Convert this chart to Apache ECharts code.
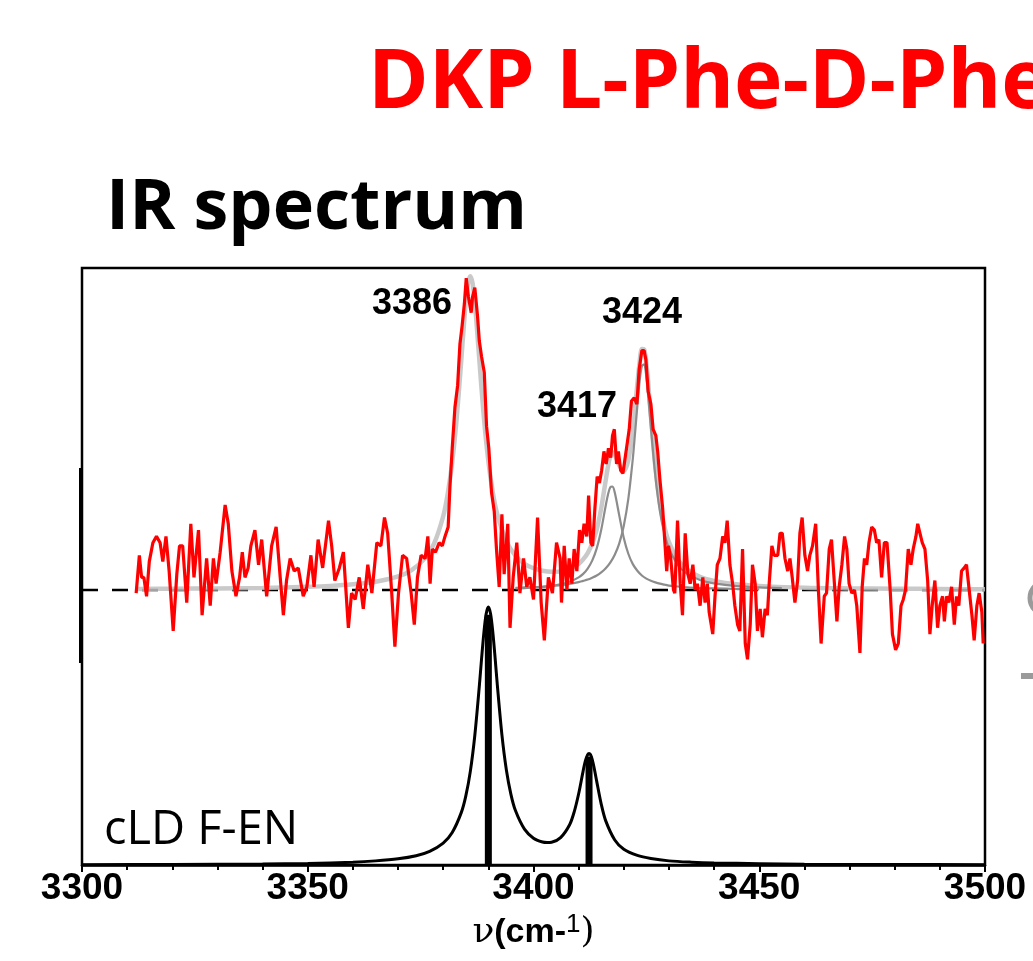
<!DOCTYPE html>
<html>
<head>
<meta charset="utf-8">
<script src="https://cdn.jsdelivr.net/npm/echarts@6/dist/echarts.min.js"></script>
<style>html,body{margin:0;padding:0;background:#fff;}#chart{width:1033px;height:961px;}</style>
</head>
<body>
<div id="chart"></div>
<script>
// ---- DATA ----
const xTicks = [3300, 3350, 3400, 3450, 3500];
const peakLabels = ['3386', '3417', '3424'];

// experimental IR spectrum [wavenumber, intensity (norm.)]
const irSpectrum = [
[3312.0,-0.01],[3312.7,0.11],[3313.2,0.04],[3313.7,0.04],[3314.3,-0.02],[3314.9,0.09],[3315.7,0.15],[3316.5,0.17],[3317.3,0.15],[3317.9,0.09],
[3318.6,0.17],[3319.3,0.06],[3320.2,-0.13],[3321.0,0.05],[3321.6,0.14],[3322.3,0.14],[3323.2,-0.04],[3324.1,0.21],[3324.8,0.04],[3325.8,0.19],
[3326.6,-0.08],[3327.6,0.10],[3328.4,-0.05],[3329.1,0.10],[3329.7,0.02],[3330.6,0.12],[3331.7,0.27],[3332.4,0.21],[3333.2,0.06],[3334.1,-0.02],
[3334.9,0.04],[3335.5,0.12],[3336.1,0.04],[3336.8,0.07],[3337.4,0.14],[3338.3,0.19],[3339.1,0.08],[3339.8,0.16],[3340.9,-0.02],[3342.0,0.14],
[3343.0,0.20],[3343.9,0.04],[3344.6,-0.08],[3345.3,0.03],[3346.1,0.10],[3347.0,0.06],[3347.9,0.07],[3349.0,-0.02],[3349.8,0.01],[3350.7,0.11],
[3351.4,0.01],[3352.3,0.16],[3353.3,0.07],[3354.6,0.22],[3355.3,0.14],[3356.0,0.03],[3357.0,0.07],[3357.9,0.12],
[3359.0,-0.12],[3359.7,-0.01],[3360.5,-0.03],[3361.4,0.04],[3362.3,-0.06],[3363.3,0.08],[3364.2,-0.01],[3365.3,0.15],[3366.2,0.14],[3367.0,0.23],
[3367.7,0.18],[3368.6,-0.01],[3369.3,-0.18],[3370.1,-0.01],[3371.0,0.11],[3371.9,0.10],[3372.9,-0.01],[3373.6,-0.11],[3374.3,0.04],[3375.1,0.11],
[3376.0,0.10],[3376.6,0.17],[3377.1,0.02],[3377.6,0.13],[3378.3,0.12],[3379.1,0.15],[3379.8,0.14],[3380.4,0.17],[3381.1,0.20],[3381.5,0.33],
[3382.0,0.45],[3382.6,0.58],[3383.2,0.65],[3383.7,0.78],[3384.2,0.84],[3384.7,0.91],[3385.1,0.99],[3385.6,0.93],[3386.2,0.88],[3386.5,0.93],
[3387.0,0.96],[3387.6,0.87],[3388.0,0.79],[3388.5,0.74],[3389.1,0.69],[3389.6,0.52],[3390.1,0.45],[3390.7,0.31],[3391.3,0.25],[3391.8,0.13],
[3392.4,0.01],[3393.0,0.24],[3393.5,0.05],[3394.3,0.21],[3394.8,-0.12],[3395.5,0.04],[3396.3,0.15],[3397.0,-0.01],[3397.8,0.10],[3398.5,0.01],
[3399.2,0.04],[3400.0,-0.03],[3400.9,0.23],[3401.7,-0.04],[3402.4,-0.16],[3403.3,0.04],[3404.2,-0.01],[3405.1,0.15],[3405.9,0.10],
[3406.2,-0.04],[3406.8,0.14],[3407.4,0.00],[3407.9,0.10],[3408.5,0.02],[3409.0,0.13],[3409.6,0.06],[3410.2,0.19],[3410.7,0.15],[3411.2,0.21],
[3411.8,0.17],[3412.2,0.30],[3412.7,0.15],[3413.1,0.14],[3413.6,0.26],[3414.1,0.36],[3414.6,0.34],[3415.1,0.38],[3415.6,0.44],[3416.1,0.40],
[3416.6,0.45],[3417.1,0.42],[3417.5,0.49],[3417.9,0.51],[3418.4,0.40],[3418.8,0.44],[3419.3,0.38],[3419.8,0.37],[3420.3,0.42],[3420.8,0.47],
[3421.2,0.51],[3421.7,0.60],[3422.3,0.61],[3422.9,0.59],[3423.4,0.70],[3424.0,0.76],[3424.5,0.76],[3424.9,0.73],[3425.4,0.63],[3426.0,0.59],
[3426.5,0.51],[3427.1,0.49],[3427.5,0.44],[3428.0,0.35],[3428.6,0.26],[3429.1,0.15],[3429.5,0.06],[3429.9,0.14],[3430.4,0.10],[3431.0,0.00],
[3431.3,-0.01],[3431.9,0.22],[3432.5,0.02],[3433.0,-0.08],[3433.6,0.18],[3434.2,0.05],[3434.7,0.02],[3435.3,0.08],[3435.8,0.00],[3436.3,0.02],
[3436.9,-0.05],[3437.5,0.04],[3438.0,-0.04],[3438.5,0.02],[3438.9,-0.07],[3439.7,-0.14],[3440.2,-0.02],[3440.7,0.08],[3441.3,0.10],[3441.9,0.17],
[3442.4,0.15],[3442.9,0.22],[3443.5,0.08],[3444.1,0.02],[3444.6,-0.05],[3445.2,-0.11],[3445.7,-0.13],[3446.3,0.13],[3446.9,-0.17],[3447.4,-0.22],
[3448.0,-0.11],[3448.5,0.08],[3449.1,0.02],[3449.6,-0.13],[3450.2,-0.06],[3450.7,-0.15],[3451.3,-0.06],[3451.8,-0.08],[3452.2,0.02],[3452.8,0.14],
[3453.3,0.11],
[3454.1,0.11],[3454.6,0.18],[3455.1,0.18],[3455.7,0.10],[3456.3,0.06],[3456.8,0.10],[3457.3,0.04],[3457.9,-0.04],[3458.5,0.03],[3459.0,0.18],
[3459.5,0.23],[3460.1,0.11],[3460.7,0.06],[3461.2,0.11],[3461.8,0.14],[3462.5,0.21],[3463.1,0.00],[3463.7,-0.17],[3464.4,-0.02],[3464.9,-0.01],
[3465.5,0.13],[3466.0,0.16],[3466.6,0.03],[3467.2,-0.10],[3467.7,0.01],[3468.3,0.08],[3468.9,0.17],[3469.4,0.13],[3469.9,0.02],[3470.5,-0.01],
[3471.1,0.00],[3471.6,-0.05],[3472.3,-0.20],[3472.8,0.01],[3473.3,0.10],[3473.8,0.08],[3474.3,0.15],[3474.9,0.20],[3475.5,0.19],[3476.0,0.15],
[3476.5,0.16],[3477.1,0.04],[3477.7,0.15],[3478.3,0.15],[3479.0,0.00],[3479.5,-0.14],[3480.2,-0.19],[3480.8,-0.17],[3481.4,-0.05],[3481.9,-0.03],
[3482.4,0.00],[3483.0,0.13],[3483.6,0.08],[3484.1,0.13],[3484.7,0.17],[3485.1,0.21],[3485.6,0.18],[3486.1,0.15],[3486.7,0.13],[3487.3,0.03],
[3487.8,-0.14],[3488.3,-0.05],[3488.9,0.03],[3489.5,-0.12],[3490.0,-0.05],[3490.6,-0.02],[3491.0,-0.10],[3491.5,-0.02],[3492.0,-0.04],[3492.6,0.01],
[3493.2,-0.11],[3493.7,-0.02],[3494.2,-0.05],[3494.8,0.06],[3495.4,0.07],[3495.9,0.08],[3496.5,0.00],[3497.1,-0.08],[3497.6,-0.16],[3498.2,-0.05],
[3498.7,-0.01],[3499.3,-0.07],[3499.6,-0.17]
];

// total fit (light gray)
const fitTotal = [
[3312,0.003],[3320,0.004],[3330,0.005],[3340,0.006],[3350,0.010],[3355,0.013],[3360,0.018],[3365,0.026],[3370,0.043],[3373,0.063],
[3376,0.101],[3378,0.148],[3380,0.234],[3381,0.305],[3382,0.406],[3383,0.547],[3384,0.729],[3384.5,0.825],[3385,0.913],[3385.5,0.974],
[3386,0.996],[3386.5,0.974],[3387,0.913],[3387.5,0.826],[3388,0.731],[3389,0.549],[3390,0.409],[3391,0.308],[3392,0.239],[3394,0.154],
[3396,0.109],[3398,0.083],[3400,0.069],[3402,0.061],[3404,0.058],[3406,0.059],[3408,0.067],[3410,0.083],[3411,0.097],[3412,0.117],
[3413,0.147],[3414,0.192],[3415,0.260],[3416,0.349],[3416.5,0.392],[3417,0.424],[3417.5,0.437],[3418,0.431],[3419,0.395],[3420,0.378],
[3421,0.412],[3422,0.507],[3422.5,0.577],[3423,0.653],[3423.5,0.722],[3424,0.765],[3424.5,0.764],[3425,0.718],[3425.5,0.640],[3426,0.552],
[3427,0.390],[3428,0.276],[3429,0.201],[3430,0.152],[3432,0.095],[3434,0.065],[3437,0.041],[3440,0.029],[3445,0.018],[3450,0.013],
[3460,0.007],[3470,0.005],[3480,0.004],[3490,0.003],[3500,0.002]
];

// fit component 3417 (dark gray)
const fit3417 = [
[3396,0.005],[3398,0.006],[3400,0.008],[3402,0.010],[3404,0.013],[3406,0.018],[3408,0.026],[3410,0.040],[3411,0.051],[3412,0.068],
[3413,0.093],[3414,0.132],[3415,0.191],[3416,0.268],[3416.5,0.303],[3417,0.326],[3417.5,0.328],[3418,0.309],[3419,0.236],[3420,0.165],
[3421,0.115],[3422,0.082],[3423,0.061],[3424,0.046],[3425,0.036],[3426,0.029],[3427,0.024],[3428,0.020],[3429,0.017],[3430,0.014],
[3432,0.011],[3434,0.008],[3437,0.006],[3440,0.005],[3445,0.003],[3450,0.002]
];

// fit component 3424 (dark gray)
const fit3424 = [
[3396,0.007],[3398,0.008],[3400,0.009],[3402,0.010],[3404,0.013],[3406,0.015],[3408,0.019],[3410,0.025],[3411,0.029],[3412,0.033],
[3413,0.039],[3414,0.046],[3415,0.056],[3416,0.069],[3417,0.087],[3418,0.112],[3419,0.148],[3420,0.204],[3421,0.289],[3422,0.417],
[3422.5,0.499],[3423,0.584],[3423.5,0.662],[3424,0.711],[3424.5,0.716],[3425,0.675],[3425.5,0.601],[3426,0.516],[3427,0.360],[3428,0.250],
[3429,0.179],[3430,0.132],[3432,0.079],[3434,0.052],[3437,0.031],[3440,0.021],[3445,0.012],[3450,0.008],[3455,0.006]
];

// calculated spectrum cLD F-EN (black)
const calcSpectrum = [
[3300,0.001],[3320,0.002],[3340,0.004],[3350,0.006],[3360,0.011],[3365,0.016],[3370,0.024],[3374,0.036],[3377,0.053],[3380,0.085],
[3382,0.126],[3384,0.203],[3385,0.267],[3386,0.362],[3387,0.502],[3388,0.693],[3388.5,0.800],[3389,0.899],[3389.5,0.972],[3390,1.000],
[3390.5,0.973],[3391,0.901],[3391.5,0.802],[3392,0.695],[3393,0.505],[3394,0.367],[3395,0.274],[3396,0.211],[3398,0.139],[3400,0.104],
[3402,0.089],[3403,0.087],[3404,0.088],[3406,0.106],[3408,0.156],[3409,0.205],[3410,0.276],[3411,0.365],[3411.5,0.404],[3412,0.428],
[3412.3,0.432],[3412.6,0.428],[3413,0.409],[3413.5,0.370],[3414,0.324],[3415,0.236],[3416,0.171],[3418,0.097],[3420,0.061],[3423,0.037],
[3426,0.025],[3430,0.016],[3435,0.011],[3440,0.008],[3450,0.005],[3460,0.003],[3480,0.002],[3500,0.001]
];
const stickPositions = [3390, 3412.3];
const stickHeights = [0.97, 0.42];
const baseline = [[3300, 0], [3500, 0]];

// ---- CHART ----
const chart = echarts.init(document.getElementById('chart'), null, {renderer: 'canvas'});
const option = {
  animation: false,
  backgroundColor: '#ffffff',
  grid: {left: 82, right: 48, top: 268, bottom: 96, show: true, borderColor: '#000', borderWidth: 2.5, backgroundColor: 'transparent'},
  xAxis: {
    type: 'value', min: xTicks[0], max: xTicks[xTicks.length - 1], interval: 50,
    axisLine: {show: true, onZero: false, lineStyle: {color: '#000', width: 2.5}},
    axisTick: {show: true, length: 7, lineStyle: {color: '#000', width: 2}},
    minorTick: {show: true, splitNumber: 5, length: 5, lineStyle: {color: '#000', width: 2}},
    splitLine: {show: false},
    axisLabel: {fontSize: 37, fontWeight: 'bold', fontFamily: 'Liberation Sans', color: '#000', margin: 5,
      formatter: v => String(v)},
    name: '{g|ν}{b|(cm-}{s|1}{g|)}',
    nameLocation: 'middle', nameGap: 46,
    nameTextStyle: {
      rich: {
        g: {fontFamily: 'DejaVu Serif', fontSize: 36, color: '#000'},
        b: {fontFamily: 'Liberation Sans', fontWeight: 'bold', fontSize: 34, color: '#000'},
        s: {fontFamily: 'Liberation Sans', fontSize: 26, color: '#000', verticalAlign: 'top', padding: [0, 0, 16, 0]}
      }
    }
  },
  yAxis: [
    {type: 'value', min: -0.873, max: 1.022, show: false, splitLine: {show: false}},
    {type: 'value', min: 0, max: 2.314, show: false, splitLine: {show: false}}
  ],
  series: [
    {type: 'line', name: 'baseline', data: baseline, yAxisIndex: 0, showSymbol: false, silent: true, z: 1,
     lineStyle: {color: '#000', width: 2.5, type: [16, 14]}},
    {type: 'line', name: 'fit', data: fitTotal, yAxisIndex: 0, showSymbol: false, smooth: 0.3, z: 2,
     lineStyle: {color: '#bfbfbf', width: 4.5, opacity: 0.85}},
    {type: 'line', name: 'fit3417', data: fit3417, yAxisIndex: 0, showSymbol: false, smooth: 0.3, z: 3,
     lineStyle: {color: '#8c8c8c', width: 2.2}},
    {type: 'line', name: 'fit3424', data: fit3424, yAxisIndex: 0, showSymbol: false, smooth: 0.3, z: 3,
     lineStyle: {color: '#8c8c8c', width: 2.2}},
    {type: 'line', name: 'calc', data: calcSpectrum, yAxisIndex: 1, showSymbol: false, smooth: 0.3, z: 4,
     lineStyle: {color: '#000', width: 3}},
    {type: 'bar', name: 'sticks', data: stickPositions.map((p, i) => [p, stickHeights[i]]), yAxisIndex: 1,
     barWidth: 7, itemStyle: {color: '#000'}, z: 4},
    {type: 'line', name: 'IR', data: irSpectrum, yAxisIndex: 0, showSymbol: false, z: 5,
     lineStyle: {color: '#ff0000', width: 3.2}}
  ],
  graphic: [
    {type: 'text', left: 368, top: 44, z: 10,
     style: {text: 'DKP L-Phe-D-Phe', font: 'bold 82px "Open Sans"', fill: '#ff0000'}},
    {type: 'text', left: 106, top: 174, z: 10,
     style: {text: 'IR spectrum', font: 'bold 70px "Open Sans"', fill: '#000'}},
    {type: 'text', left: 104, top: 807, z: 10,
     style: {text: 'cLD F-EN', font: '47px "Open Sans"', fill: '#000'}},
    {type: 'text', x: 412, y: 304, z: 10,
     style: {text: peakLabels[0], font: 'bold 36px "Liberation Sans"', fill: '#000', align: 'center', verticalAlign: 'middle'}},
    {type: 'text', x: 577, y: 407, z: 10,
     style: {text: peakLabels[1], font: 'bold 36px "Liberation Sans"', fill: '#000', align: 'center', verticalAlign: 'middle'}},
    {type: 'text', x: 642, y: 313, z: 10,
     style: {text: peakLabels[2], font: 'bold 36px "Liberation Sans"', fill: '#000', align: 'center', verticalAlign: 'middle'}},
    {type: 'rect', shape: {x: 79, y: 468, width: 4, height: 195}, style: {fill: '#000'}, z: 10},
    {type: 'circle', shape: {cx: 1047, cy: 598, r: 17}, style: {fill: 'none', stroke: '#9a9a9a', lineWidth: 5}, z: 10},
    {type: 'rect', shape: {x: 1021, y: 673, width: 12, height: 6}, style: {fill: '#9a9a9a'}, z: 10}
  ]
};
chart.setOption(option);
</script>
</body>
</html>
